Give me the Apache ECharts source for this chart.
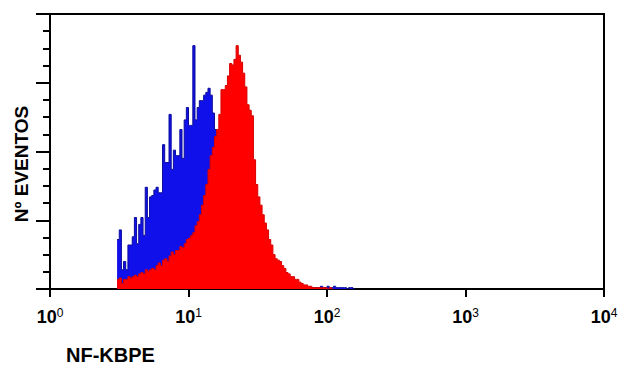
<!DOCTYPE html>
<html>
<head>
<meta charset="utf-8">
<script src="https://cdn.jsdelivr.net/npm/echarts@6/dist/echarts.min.js"></script>
<style>
  html, body { margin: 0; padding: 0; background: #fff; }
  #chart { width: 621px; height: 365px; }
</style>
</head>
<body>
<div id="chart"></div>
<script>
// Histogram of NF-KB PE fluorescence: 256 channels over four log decades (64 channels per decade).
const CHANNELS_PER_DECADE = 64;
const firstChannel = 31;

// Event counts per channel, starting at firstChannel.
const blueCounts = [
  36, 43, 14, 20, 14, 32, 32, 38, 52, 33,
  47, 52, 39, 74, 52, 67, 68, 72, 74, 70,
  70, 105, 92, 92, 127, 87, 101, 97, 97, 116,
  95, 123, 132, 119, 119, 177, 123, 132, 137, 137,
  141, 143, 146, 141, 128, 116, 103, 90, 80, 70,
  60, 55, 50, 45, 40, 35, 30, 26, 22, 20,
  17, 15, 13, 11, 10, 9, 8, 7, 6, 5,
  4, 4, 3, 3, 3, 3, 2, 2, 2, 2,
  2, 2, 1, 1, 1, 1, 1, 1, 1, 1,
  1, 1, 1, 1, 2, 1, 1, 2, 1, 1,
  2, 1, 1, 1, 1, 1, 0, 1, 1, 0
];
const redCounts = [
  7, 8, 4, 7, 7, 9, 8, 9, 10, 9,
  11, 12, 11, 14, 13, 14, 15, 14, 17, 19,
  17, 21, 22, 20, 24, 27, 25, 28, 28, 31,
  30, 33, 36, 37, 39, 41, 46, 49, 54, 61,
  68, 76, 87, 97, 103, 111, 116, 127, 145, 145,
  148, 155, 164, 163, 167, 177, 170, 165, 157, 147,
  134, 130, 126, 94, 76, 67, 61, 54, 48, 43,
  36, 32, 25, 22, 21, 20, 17, 15, 12, 11,
  9, 9, 7, 7, 5, 4, 3, 3, 2, 2,
  1, 1, 1, 1, 1, 1, 1, 0, 1, 0
];

const xTickExponents = [0, 1, 2, 3, 4];
const xTitle = 'NF-KBPE';
const yTitle = 'Nº EVENTOS';

// Turn channel counts into step points on the log axis (left edge of each channel, closed at the right).
function toSteps(counts) {
  const pts = counts.map((c, i) => [Math.pow(10, (firstChannel + i) / CHANNELS_PER_DECADE), c]);
  pts.push([Math.pow(10, (firstChannel + counts.length) / CHANNELS_PER_DECADE), 0]);
  return pts;
}

const chart = echarts.init(document.getElementById('chart'), null, { renderer: 'svg' });

chart.setOption({
  animation: false,
  backgroundColor: '#ffffff',
  grid: {
    left: 50, right: 17, top: 14, bottom: 76,
    show: true, borderColor: '#000', borderWidth: 2, backgroundColor: 'transparent'
  },
  xAxis: {
    type: 'log',
    logBase: 10,
    min: 1,
    max: 10000,
    axisLine: { show: true, onZero: false, lineStyle: { color: '#000', width: 2 } },
    axisTick: { show: true, inside: false, length: 8, lineStyle: { color: '#000', width: 2 } },
    minorTick: { show: false },
    splitLine: { show: false },
    axisLabel: {
      margin: 18,
      fontFamily: 'Liberation Sans',
      fontWeight: 'bold',
      fontSize: 18,
      lineHeight: 20,
      color: '#000',
      formatter: function (v) {
        const e = Math.round(Math.log10(v));
        return xTickExponents.indexOf(e) >= 0 ? '10{s|' + e + '}' : '';
      },
      rich: {
        s: { fontFamily: 'Liberation Sans', fontWeight: 'normal', fontSize: 12, color: '#000', padding: [0, 0, 8, 0] }
      }
    }
  },
  yAxis: {
    type: 'value',
    min: 0,
    max: 200,
    interval: 50,
    axisLine: { show: true, lineStyle: { color: '#000', width: 2 } },
    axisTick: { show: true, inside: false, length: 14, lineStyle: { color: '#000', width: 2 } },
    minorTick: { show: true, splitNumber: 4, length: 7, lineStyle: { color: '#000', width: 2 } },
    splitLine: { show: false },
    axisLabel: { show: false }
  },
  graphic: [
    {
      type: 'text',
      left: 66, top: 345,
      style: { text: xTitle, font: 'bold 20px "Liberation Sans"', fill: '#000' }
    },
    {
      type: 'text',
      x: 21, y: 164,
      rotation: Math.PI / 2,
      style: {
        text: yTitle, font: 'bold 19px "Liberation Sans"', fill: '#000',
        align: 'center', verticalAlign: 'middle'
      }
    }
  ],
  series: [
    {
      name: 'blue',
      type: 'line',
      step: 'end',
      symbol: 'none',
      data: toSteps(blueCounts),
      lineStyle: { color: '#0c0c9c', width: 1 },
      areaStyle: { color: '#1010ea', opacity: 1 },
      z: 2
    },
    {
      name: 'red',
      type: 'line',
      step: 'end',
      symbol: 'none',
      data: toSteps(redCounts),
      lineStyle: { color: '#d80000', width: 1 },
      areaStyle: { color: '#ff0000', opacity: 1 },
      z: 3
    }
  ]
});
</script>
</body>
</html>
